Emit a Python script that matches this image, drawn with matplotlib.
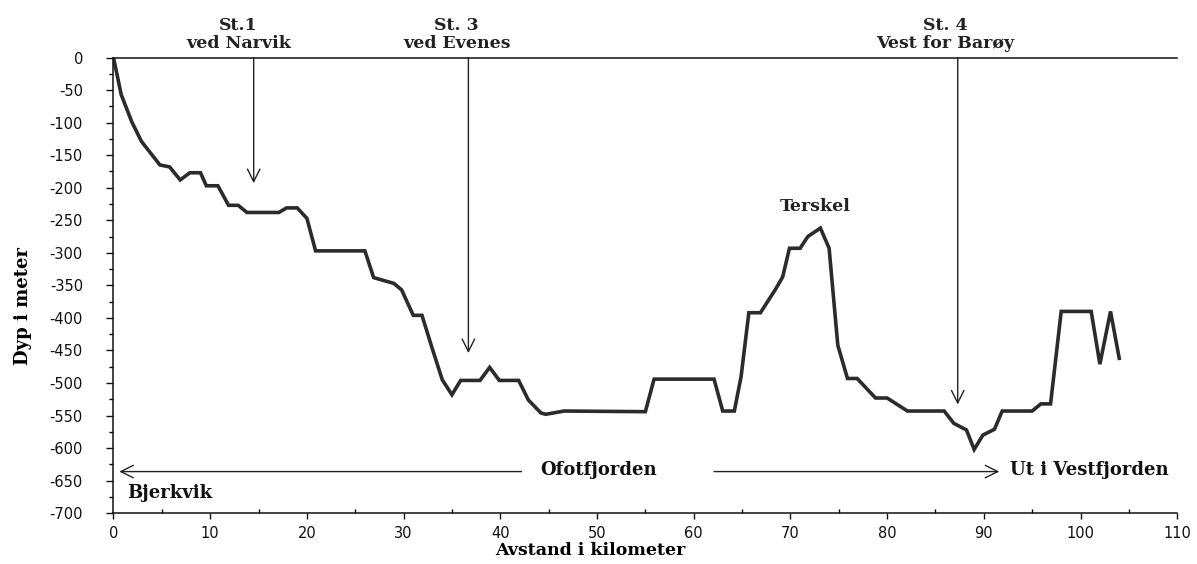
import numpy as np
from matplotlib import pyplot as plt
from matplotlib.ticker import MultipleLocator

plt.rcParams['axes.unicode_minus'] = False

# dybdeprofil Ofotfjorden
km = [0, 0.8, 1.9, 2.9, 4.8, 5.8, 6.9, 7.9, 9.0, 9.6, 10.8, 11.9, 12.9, 13.8, 17.1,
      17.9, 19.0, 20.0, 20.9, 26.0, 26.9, 29.0, 29.8, 31.0, 31.9, 32.9, 34.0, 35.0,
      35.9, 37.9, 38.9, 39.9, 41.9, 42.9, 44.2, 44.7, 46.6, 55.0, 55.9, 62.1, 63.0,
      64.2, 64.9, 65.7, 66.9, 68.5, 69.2, 69.9, 71.0, 71.8, 73.1, 74.0, 74.9, 75.9,
      76.9, 78.8, 80.0, 82.1, 85.9, 86.9, 88.2, 89.0, 89.9, 91.1, 91.9, 95.0, 95.9,
      96.9, 98.0, 101.1, 102.0, 103.1, 104.0]
dyp = [0, -57, -99, -129, -165, -168, -188, -177, -177, -197, -197, -227, -227, -238, -238,
       -231, -231, -247, -297, -297, -338, -347, -357, -396, -396, -444, -495, -518,
       -496, -496, -476, -496, -496, -526, -546, -548, -543, -544, -494, -494, -543,
       -543, -490, -392, -392, -355, -337, -293, -293, -275, -262, -293, -442, -493,
       -493, -523, -523, -543, -543, -562, -572, -602, -580, -571, -543, -543, -532,
       -532, -390, -390, -471, -390, -462]

stasjoner = ["St.1\nved Narvik", "St. 3\nved Evenes", "St. 4\nVest for Barøy"]
st_km = [14.5, 36.7, 87.3]
st_dyp = [-193, -454, -533]
st_tekst_km = [12.9, 35.5, 86.0]

serif = ['DejaVu Serif']
pil = dict(arrowstyle='->,head_length=0.9,head_width=0.45',
           color='#222222', lw=1.0, shrinkA=0, shrinkB=0)

fig = plt.figure(figsize=(11.97, 5.64), dpi=100)
fig.subplots_adjust(left=0.0948, right=0.9835, top=0.898, bottom=0.09)
ax = fig.add_subplot(111)

ax.plot(km, dyp, color='#2b2b2b', lw=2.6, solid_joinstyle='miter')

ax.set_xlim(0, 110)
ax.set_ylim(-700, 0)
ax.spines['right'].set_visible(False)
for s in ['left', 'bottom', 'top']:
    ax.spines[s].set_linewidth(1.1)
    ax.spines[s].set_color('#111111')

ax.xaxis.set_major_locator(MultipleLocator(10))
ax.xaxis.set_minor_locator(MultipleLocator(5))
ax.yaxis.set_major_locator(MultipleLocator(50))
ax.yaxis.set_minor_locator(MultipleLocator(25))
ax.tick_params(axis='y', which='major', direction='out', length=5, width=1, pad=17,
               labelsize=10.5, colors='#111111')
ax.tick_params(axis='y', which='minor', direction='out', length=3, width=1)
ax.tick_params(axis='x', which='major', direction='out', length=4, width=1, pad=5,
               labelsize=10.5, colors='#111111')
ax.tick_params(axis='x', which='minor', direction='in', length=3, width=1)
ax.tick_params(top=False, which='both')

ax.set_xlabel('Avstand i kilometer', family=serif, fontweight='bold', fontsize=12.5)
ax.xaxis.set_label_coords(0.448, -0.063)
ax.set_ylabel('Dyp i meter', family=serif, fontweight='bold', fontsize=13)
ax.yaxis.set_label_coords(-0.077, 0.455)

# stasjoner med piler
for navn, x, y, xt in zip(stasjoner, st_km, st_dyp, st_tekst_km):
    ax.annotate('', xy=(x, y), xytext=(x, 0), arrowprops=pil)
    ax.text(xt, 35, navn, ha='center', va='center', family=serif, fontweight='bold',
            fontsize=12.5, linespacing=1.05, color='#222222', clip_on=False)

ax.text(72.6, -229, 'Terskel', ha='center', va='center', family=serif,
        fontweight='bold', fontsize=12.5, color='#222222')

# Ofotfjorden piler
ax.annotate('', xy=(0.6, -636), xytext=(42.2, -636), arrowprops=pil)
ax.annotate('', xy=(91.6, -636), xytext=(62.1, -636), arrowprops=pil)
ax.text(50.2, -634, 'Ofotfjorden', ha='center', va='center', family=serif,
        fontweight='bold', fontsize=13, color='#111111')
ax.text(92.7, -634, 'Ut i Vestfjorden', ha='left', va='center', family=serif,
        fontweight='bold', fontsize=13, color='#111111', clip_on=False)
ax.text(1.4, -669, 'Bjerkvik', ha='left', va='center', family=serif,
        fontweight='bold', fontsize=13, color='#111111')

plt.savefig('out.png', dpi=100)
